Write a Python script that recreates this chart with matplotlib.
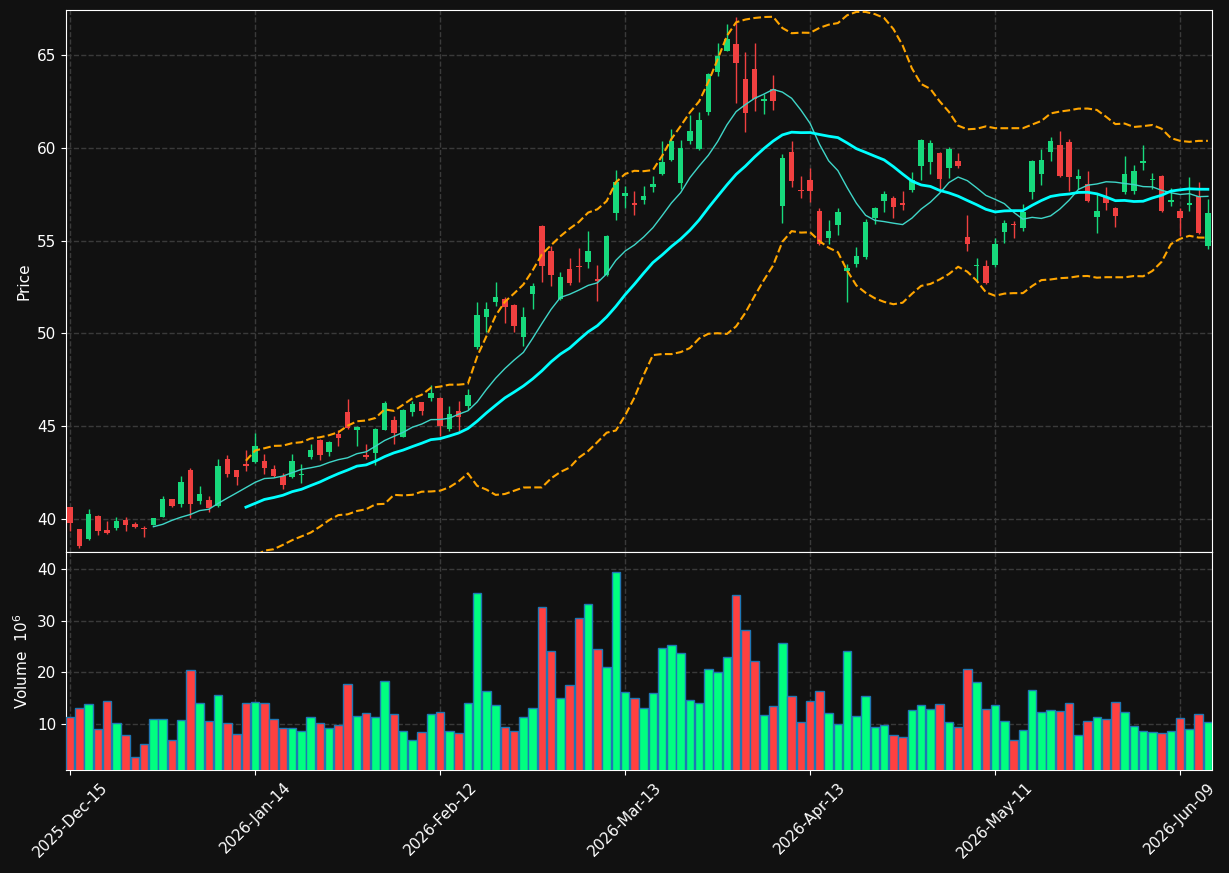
import numpy as np
import pandas as pd
import matplotlib
matplotlib.use("Agg")
import matplotlib.pyplot as plt

#
# Daily OHLC prices and volume (millions)
#
opens = [40.65, 39.46, 38.94, 40.16, 39.41, 39.53, 39.95, 39.73, 39.53, 39.68,
         40.13, 41.08, 40.82, 42.63, 40.99, 41.02, 40.73, 43.23, 42.63, 42.96,
         43.08, 43.12, 42.69, 42.31, 42.28, 42.38, 43.33, 44.25, 43.62, 44.57,
         45.75, 44.80, 43.44, 43.57, 44.80, 45.32, 44.43, 45.77, 46.29, 46.52,
         46.54, 44.84, 45.81, 46.08, 49.27, 50.88, 51.67, 51.83, 51.56, 49.80,
         52.11, 55.81, 54.46, 51.85, 53.49, 53.66, 53.83, 52.96, 53.17, 56.47,
         57.38, 57.04, 57.17, 57.87, 58.57, 59.32, 58.10, 60.39, 59.91, 61.95,
         64.10, 65.23, 65.59, 63.69, 64.23, 62.51, 63.15, 56.85, 59.78, 57.74,
         58.28, 56.61, 55.14, 55.82, 53.35, 53.76, 54.14, 56.24, 57.15, 57.31,
         57.04, 57.74, 59.00, 59.21, 59.73, 58.89, 59.28, 55.22, 53.62, 53.66,
         53.67, 55.45, 55.91, 55.66, 57.60, 58.57, 59.75, 60.16, 60.32, 58.33,
         58.05, 56.25, 57.33, 56.77, 57.60, 57.65, 59.16, 58.28, 58.49, 57.08,
         56.61, 56.90, 57.42, 54.70]
highs = [40.65, 39.46, 40.52, 40.20, 39.89, 40.09, 40.09, 39.86, 39.64, 40.06,
         41.22, 41.10, 42.35, 42.78, 41.81, 41.27, 43.26, 43.44, 42.65, 43.75,
         44.66, 43.49, 42.90, 42.49, 43.53, 42.96, 44.07, 44.34, 44.19, 44.82,
         46.49, 45.04, 44.07, 44.91, 46.37, 45.56, 45.93, 46.37, 46.32, 47.24,
         46.56, 46.08, 46.34, 46.99, 51.68, 51.68, 52.76, 51.99, 51.58, 51.45,
         52.72, 55.85, 54.73, 53.30, 54.07, 54.61, 55.54, 53.69, 55.31, 58.80,
         57.96, 57.67, 57.94, 58.46, 60.38, 61.00, 60.41, 61.76, 61.94, 64.05,
         65.63, 66.65, 67.04, 65.18, 65.63, 62.89, 63.91, 59.66, 60.38, 58.49,
         58.91, 56.74, 56.13, 56.76, 53.75, 54.68, 56.16, 56.83, 57.69, 57.42,
         57.69, 58.71, 60.50, 60.41, 59.75, 60.05, 59.71, 56.38, 54.07, 53.96,
         55.14, 56.13, 56.04, 56.97, 59.33, 59.93, 60.59, 60.91, 60.47, 58.85,
         58.76, 57.51, 57.89, 56.79, 59.57, 59.09, 60.16, 58.64, 58.55, 57.83,
         56.76, 58.44, 58.17, 57.24]
lows = [39.37, 38.42, 38.89, 39.17, 39.22, 39.43, 39.35, 39.53, 39.05, 39.66,
        40.09, 40.63, 40.63, 40.04, 40.82, 40.36, 40.63, 42.28, 41.83, 42.60,
        43.05, 42.42, 42.26, 41.65, 42.24, 41.92, 43.24, 43.21, 43.40, 43.94,
        44.84, 43.92, 43.26, 42.89, 44.78, 44.07, 44.43, 45.54, 45.63, 46.34,
        44.46, 44.75, 44.75, 45.86, 49.18, 50.07, 51.49, 50.56, 50.09, 49.34,
        51.33, 52.76, 52.53, 51.82, 52.62, 52.76, 53.53, 51.76, 53.12, 56.11,
        56.74, 56.40, 56.97, 57.60, 58.53, 59.27, 57.76, 60.22, 59.88, 61.76,
        63.85, 65.20, 62.40, 60.84, 61.99, 61.81, 62.06, 55.95, 57.90, 57.29,
        57.06, 54.78, 54.82, 55.30, 51.70, 53.57, 54.00, 55.90, 56.54, 56.22,
        56.65, 57.60, 58.26, 58.58, 57.72, 58.37, 58.89, 54.43, 52.85, 52.67,
        53.60, 54.87, 55.14, 55.54, 57.24, 57.99, 59.27, 58.44, 57.69, 57.78,
        57.09, 55.39, 56.65, 55.75, 57.51, 57.51, 58.80, 57.78, 56.52, 56.86,
        55.27, 56.58, 55.35, 54.55]
closes = [39.80, 38.57, 40.27, 39.37, 39.25, 39.89, 39.68, 39.57, 39.48, 40.04,
          41.08, 40.72, 41.99, 40.82, 41.34, 40.61, 42.85, 42.44, 42.26, 42.87,
          43.92, 42.76, 42.31, 41.85, 43.12, 42.42, 43.71, 43.44, 44.14, 44.37,
          44.93, 44.95, 43.33, 44.84, 46.24, 44.64, 45.86, 46.22, 45.82, 46.77,
          45.00, 45.65, 45.48, 46.67, 51.02, 51.34, 51.94, 51.42, 50.39, 50.91,
          52.58, 53.62, 53.14, 53.06, 52.71, 53.60, 54.46, 52.81, 55.27, 58.14,
          57.58, 56.90, 57.42, 58.06, 59.25, 60.38, 60.00, 60.91, 61.51, 63.99,
          64.95, 65.86, 64.59, 61.85, 62.62, 62.63, 62.54, 59.46, 58.19, 57.65,
          57.69, 54.82, 55.54, 56.56, 53.51, 54.19, 56.02, 56.77, 57.51, 56.79,
          56.94, 58.28, 60.43, 60.27, 58.33, 59.93, 59.00, 54.80, 53.67, 52.71,
          54.82, 55.95, 55.82, 56.54, 59.30, 59.35, 60.38, 58.49, 58.44, 58.48,
          57.11, 56.61, 57.01, 56.31, 58.60, 58.76, 59.30, 58.33, 56.58, 57.17,
          56.20, 57.04, 55.39, 56.49]
volumes = [11.36, 13.12, 13.83, 9.03, 14.48, 10.19, 7.86, 3.57, 6.10, 10.97,
           10.97, 6.88, 10.78, 20.53, 14.09, 10.58, 15.65, 10.19, 8.05, 14.09,
           14.29, 14.09, 10.97, 9.22, 9.22, 8.64, 11.36, 10.19, 9.22, 9.81,
           17.80, 11.56, 12.14, 11.36, 18.38, 11.95, 8.64, 6.88, 8.44, 11.95,
           12.34, 8.64, 8.25, 14.09, 35.34, 16.43, 13.70, 9.42, 8.64, 11.36,
           13.12, 32.61, 24.23, 15.07, 17.60, 30.47, 33.20, 24.56, 21.11, 39.43,
           16.24, 15.07, 13.12, 16.04, 24.81, 25.40, 23.84, 14.68, 14.09, 20.72,
           20.14, 23.06, 34.95, 28.32, 22.28, 11.75, 13.51, 25.79, 15.46, 10.39,
           14.48, 16.43, 12.14, 10.00, 24.23, 11.56, 15.46, 9.42, 9.81, 7.86,
           7.47, 12.73, 13.70, 12.92, 13.90, 10.39, 9.42, 20.72, 18.19, 12.92,
           13.70, 10.58, 6.88, 8.83, 16.63, 12.34, 12.73, 12.53, 14.09, 7.86,
           10.58, 11.36, 10.97, 14.29, 12.34, 9.61, 8.64, 8.44, 8.25, 8.64,
           11.17, 9.03, 11.95, 10.39]

# trading days (market holidays skipped)
holidays = ["2025-12-25", "2026-01-01", "2026-01-19", "2026-02-16",
            "2026-04-03", "2026-05-25"]
dates = pd.bdate_range("2025-12-15", periods=len(closes), freq="C",
                       holidays=holidays)

df = pd.DataFrame({"Open": opens, "High": highs, "Low": lows,
                   "Close": closes, "Volume": volumes}, index=dates)

# moving averages and bollinger bands
ma10 = df["Close"].rolling(10).mean()
ma20 = df["Close"].rolling(20).mean()
std20 = df["Close"].rolling(20).std(ddof=0)
bb_up = ma20 + 2 * std20
bb_lo = ma20 - 2 * std20

x = np.arange(len(df))
up = df["Close"] >= df["Open"]
candle_col = np.where(up, "#17d97c", "#f04040")
vol_col = np.where(up, "#00ff80", "#ff4040")

bg = "#111111"
fig = plt.figure(figsize=(12.29, 8.73), dpi=100, facecolor=bg)
ax = fig.add_axes([0.0537, 0.3677, 0.9325, 0.6208], facecolor=bg)
axv = fig.add_axes([0.0537, 0.1180, 0.9325, 0.2497], facecolor=bg, sharex=ax)

#
# candles
#
ax.vlines(x, df["Low"], df["High"], colors=candle_col, lw=1, zorder=2)
body_lo = np.minimum(df["Open"], df["Close"])
body_h = np.maximum(np.abs(df["Close"] - df["Open"]), 0.04)
ax.bar(x, body_h, bottom=body_lo, width=0.6, color=candle_col, zorder=3)

ax.plot(x, ma10, color="#3fd6c8", lw=1, zorder=4)
ax.plot(x, ma20, color="#00ffff", lw=2, zorder=4)
ax.plot(x, bb_up, color="#ffa500", lw=1.5, ls="--", zorder=4)
ax.plot(x, bb_lo, color="#ffa500", lw=1.5, ls="--", zorder=4)

#
# volume
#
axv.bar(x, df["Volume"], width=0.9, color=vol_col, edgecolor="#1f77b4",
        lw=1, zorder=3)

ax.set_xlim(-0.45, len(df) - 0.55)
ax.set_ylim(38.23, 67.42)
axv.set_ylim(0.3 * min(volumes), 1.1 * max(volumes))
ax.set_yticks([40, 45, 50, 55, 60, 65])
axv.set_yticks([10, 20, 30, 40])

tick_pos = x[::20]
tick_labels = [d.strftime("%Y-%b-%d") for d in dates[::20]]
axv.set_xticks(tick_pos)
axv.set_xticklabels(tick_labels, rotation=45, ha="center")
plt.setp(ax.get_xticklabels(), visible=False)

for a in (ax, axv):
    a.grid(True, color="#3a3a3a", ls="--", lw=1)
    a.set_axisbelow(True)
    a.tick_params(colors="white", labelsize=11)
    for s in a.spines.values():
        s.set_color("white")

ax.set_ylabel("Price", color="white", fontsize=11)
axv.set_ylabel("Volume  $10^{6}$", color="white", fontsize=11)

fig.savefig("out.png", dpi=100, facecolor=bg)
